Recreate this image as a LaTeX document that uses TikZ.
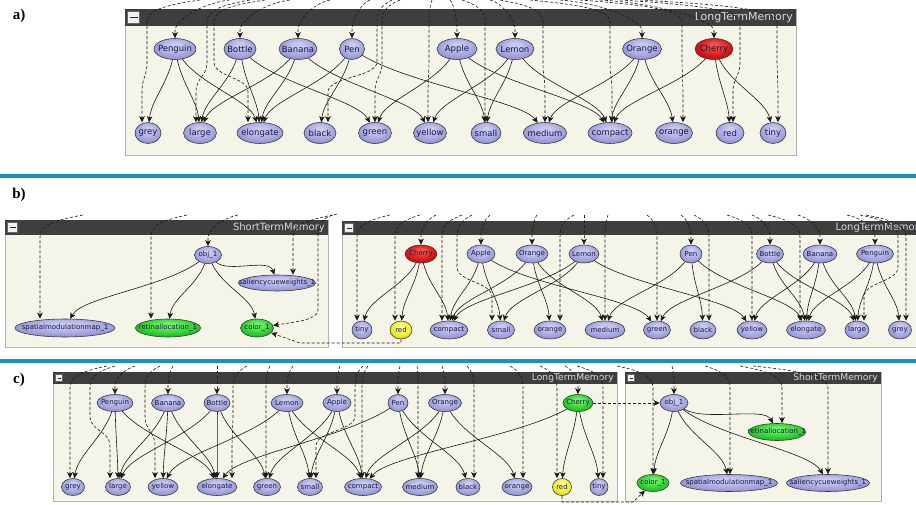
\documentclass[tikz,border=0pt]{standalone}
\usepackage{fontspec}
\setmainfont{DejaVu Sans}
\newfontfamily\labfont{Liberation Serif}
\usetikzlibrary{shapes.geometric,arrows.meta,calc}

\definecolor{lavA}{RGB}{200,200,242}
\definecolor{lavB}{RGB}{162,162,222}
\definecolor{lavC}{RGB}{104,104,172}
\definecolor{redA}{RGB}{240,80,70}
\definecolor{redB}{RGB}{215,20,20}
\definecolor{redC}{RGB}{150,0,0}
\definecolor{grnA}{RGB}{110,240,110}
\definecolor{grnB}{RGB}{40,205,40}
\definecolor{grnC}{RGB}{15,135,15}
\definecolor{yelA}{RGB}{255,255,140}
\definecolor{yelB}{RGB}{235,235,40}
\definecolor{yelC}{RGB}{170,160,0}
\definecolor{panelbg}{RGB}{244,244,233}
\definecolor{barbg}{RGB}{62,62,62}
\definecolor{bartxt}{RGB}{218,218,218}
\definecolor{sepblue}{RGB}{28,142,208}
\definecolor{edgecol}{RGB}{25,25,25}
\definecolor{nodetxt}{RGB}{22,22,60}

\pgfdeclareradialshading{lavsh}{\pgfpoint{0bp}{10bp}}{color(0bp)=(lavA); color(6bp)=(lavA); color(22bp)=(lavB); color(42bp)=(lavC); color(50bp)=(lavC)}
\pgfdeclareradialshading{redsh}{\pgfpoint{0bp}{10bp}}{color(0bp)=(redA); color(6bp)=(redA); color(22bp)=(redB); color(42bp)=(redC); color(50bp)=(redC)}
\pgfdeclareradialshading{grnsh}{\pgfpoint{0bp}{10bp}}{color(0bp)=(grnA); color(6bp)=(grnA); color(22bp)=(grnB); color(42bp)=(grnC); color(50bp)=(grnC)}
\pgfdeclareradialshading{yelsh}{\pgfpoint{0bp}{10bp}}{color(0bp)=(yelA); color(6bp)=(yelA); color(22bp)=(yelB); color(42bp)=(yelC); color(50bp)=(yelC)}

\tikzset{
  nd/.style={ellipse, draw=black!80, line width=0.55pt, inner xsep=-40pt, inner ysep=-40pt,
    text=nodetxt, shade, shading=lavsh},
  ndA/.style={nd, font=\fontsize{8.5}{9}\selectfont, minimum height=21pt},
  ndB/.style={nd, font=\fontsize{7}{8}\selectfont, minimum height=18pt},
  ndC/.style={nd, font=\fontsize{7}{8}\selectfont, minimum height=17pt},
  rednd/.style={shading=redsh},
  grnnd/.style={shading=grnsh},
  yelnd/.style={shading=yelsh},
  sol/.style={draw=edgecol, line width=0.6pt, -{Stealth[length=6pt,width=5.5pt,inset=1.5pt]}},
  dsh/.style={sol, dash pattern=on 3pt off 2pt},
  frameline/.style={draw=black!30, line width=0.6pt},
  sepline/.style={draw=sepblue, line width=3.5pt},
  lab/.style={font=\labfont\bfseries\fontsize{15}{15}\selectfont, inner sep=0pt}
}

% solid edge between two named nodes
\newcommand\E[2]{\draw[sol] (#1) .. controls ($(#1)!0.3!(#2)+(0,10)$) and ($(#2)!0.12!(#1)+(0,-22)$) .. (#2);}
% dashed edge from outside into a top-row node: sx, sy, node
\newcommand\Dt[3]{%
  \coordinate (#3-in) at (#1,#2);
  \coordinate (#3-top) at (#3.north |- #3-in);
  \draw[dsh] (#3-in) .. controls ($(#3-in)!0.6!(#3-top)+(0,4)$) and ($(#3.north)+(0,-16)$) .. ($(#3.north)+(0,-8)$) -- (#3.north);}
% dashed edge from outside into a bottom-row node: sx, sy, x in bar, x at arrow, bend y, node
\newcommand\Db[6]{%
  \coordinate (#6-in) at (#1,#2);
  \coordinate (#6-hit) at (#4,0 |- #6.north);
  \draw[dsh] (#6-in) .. controls ({#3+(#1-#3)*0.35},{#2+5}) and (#3,{#2+10}) .. (#3,{#2+22})
     -- (#3,#5) .. controls (#3,{#5+15}) and (#4,{#5+15}) .. (#4,{#5+30}) -- (#6-hit);}
% panel frame: name, x1, ytop, x2, ybar, ybot, title, size
\newcommand\panel[8]{%
  \fill[panelbg] (#2,#5) rectangle (#4,#6);
  \draw[frameline] (#2,#3) rectangle (#4,#6);
  \fill[barbg] (#2,#3) rectangle (#4,#5);
  \draw[fill=black!6, draw=black!60, line width=0.4pt] ({#2+2.5},{#3+2.5}) rectangle ({#2+#5-#3-2.5},{#5-2.5});
  \draw[black!85, line width=0.9pt] ({#2+4.5},{(#3+#5)/2}) -- ({#2+#5-#3-4.5},{(#3+#5)/2});
  \node[anchor=east, text=bartxt, inner sep=0pt, font=\fontsize{#8}{#8}\selectfont] (#1-title) at ({#4-3},{(#3+#5)/2}) {#7};
}

\begin{document}
\begin{tikzpicture}[x=1pt, y=-1pt]
\path[use as bounding box] (0,0) rectangle (916,505);
\clip (0,0) rectangle (916,505);
\fill[white] (0,0) rectangle (916,505);

% labels and separators
\node[lab] (lab-a) at (19,16) {a)};
\node[lab] (lab-b) at (19,195) {b)};
\node[lab] (lab-c) at (19,380) {c)};
\draw[sepline] (0,176) -- (916,176);
\draw[sepline] (0,361) -- (916,361);

% frames
\panel{fa}{125}{9}{796}{26}{155}{LongTermMemory}{11}
\panel{fbs}{5}{220}{328}{235}{347}{ShortTermMemory}{10}
\panel{fbl}{342}{221}{928}{235}{347}{LongTermMemory}{10}
\panel{fcl}{53}{372}{617}{384}{501}{LongTermMemory}{9.2}
\panel{fcs}{625}{372}{881}{384}{501}{ShortTermMemory}{9.2}

% ---------------- panel a ----------------
\node[ndA, minimum width=42pt] (a-Penguin) at (175,49) {Penguin};
\node[ndA, minimum width=32pt] (a-Bottle) at (240,49) {Bottle};
\node[ndA, minimum width=38pt] (a-Banana) at (298,49) {Banana};
\node[ndA, minimum width=25pt] (a-Pen) at (352,49) {Pen};
\node[ndA, minimum width=40pt] (a-Apple) at (457,49) {Apple};
\node[ndA, minimum width=38pt] (a-Lemon) at (515,49) {Lemon};
\node[ndA, minimum width=39pt] (a-Orange) at (642,49) {Orange};
\node[ndA, rednd, minimum width=38pt] (a-Cherry) at (714,49) {Cherry};
\node[ndA, minimum width=26pt] (a-grey) at (148,133) {grey};
\node[ndA, minimum width=33pt] (a-large) at (200,133) {large};
\node[ndA, minimum width=46pt] (a-elongate) at (260,133) {elongate};
\node[ndA, minimum width=32pt] (a-black) at (320,133) {black};
\node[ndA, minimum width=33pt] (a-green) at (375,133) {green};
\node[ndA, minimum width=33pt] (a-yellow) at (430,133) {yellow};
\node[ndA, minimum width=30pt] (a-small) at (486,133) {small};
\node[ndA, minimum width=43pt] (a-medium) at (545,133) {medium};
\node[ndA, minimum width=44pt] (a-compact) at (610,133) {compact};
\node[ndA, minimum width=37pt] (a-orange) at (674,133) {orange};
\node[ndA, minimum width=28pt] (a-red) at (730,133) {red};
\node[ndA, minimum width=26pt] (a-tiny) at (773,133) {tiny};

% ---------------- panel b ----------------
\node[ndB, minimum width=27pt, minimum height=17pt] (b-obj) at (208,255) {obj\_1};
\node[ndB, minimum width=77pt, minimum height=16pt] (b-saliency) at (277,283) {saliencycueweights\_1};
\node[ndB, minimum width=100pt] (b-spatial) at (65,328) {spatialmodulationmap\_1};
\node[ndB, grnnd, minimum width=65pt] (b-retinal) at (168,328) {retinallocation\_1};
\node[ndB, grnnd, minimum width=33pt] (b-color) at (257,328) {color\_1};

\node[ndB, rednd, minimum width=32pt] (b-Cherry) at (421,254) {Cherry};
\node[ndB, minimum width=28pt] (b-Apple) at (481,254) {Apple};
\node[ndB, minimum width=32pt] (b-Orange) at (532,254) {Orange};
\node[ndB, minimum width=30pt] (b-Lemon) at (584,254) {Lemon};
\node[ndB, minimum width=22pt] (b-Pen) at (691,254) {Pen};
\node[ndB, minimum width=27pt] (b-Bottle) at (770,254) {Bottle};
\node[ndB, minimum width=34pt] (b-Banana) at (820,254) {Banana};
\node[ndB, minimum width=37pt] (b-Penguin) at (875,254) {Penguin};
\node[ndB, minimum width=20pt] (b-tiny) at (362,330) {tiny};
\node[ndB, yelnd, minimum width=22pt] (b-red) at (401,330) {red};
\node[ndB, minimum width=38pt] (b-compact) at (449,330) {compact};
\node[ndB, minimum width=27pt] (b-small) at (501,330) {small};
\node[ndB, minimum width=32pt] (b-orange) at (550,330) {orange};
\node[ndB, minimum width=40pt] (b-medium) at (605,330) {medium};
\node[ndB, minimum width=27pt] (b-green) at (657,330) {green};
\node[ndB, minimum width=26pt] (b-black) at (703,330) {black};
\node[ndB, minimum width=30pt] (b-yellow) at (752,330) {yellow};
\node[ndB, minimum width=39pt] (b-elongate) at (806,330) {elongate};
\node[ndB, minimum width=24pt] (b-large) at (857,330) {large};
\node[ndB, minimum width=23pt] (b-grey) at (900,330) {grey};

% ---------------- panel c ----------------
\node[ndC, minimum width=36pt] (c-Penguin) at (115,403) {Penguin};
\node[ndC, minimum width=33pt] (c-Banana) at (168,403) {Banana};
\node[ndC, minimum width=26pt] (c-Bottle) at (217,403) {Bottle};
\node[ndC, minimum width=32pt] (c-Lemon) at (287,403) {Lemon};
\node[ndC, minimum width=28pt] (c-Apple) at (337,403) {Apple};
\node[ndC, minimum width=20pt] (c-Pen) at (398,403) {Pen};
\node[ndC, minimum width=33pt] (c-Orange) at (445,403) {Orange};
\node[ndC, grnnd, minimum width=30pt] (c-Cherry) at (578,403) {Cherry};
\node[ndC, minimum width=23pt] (c-grey) at (73,487) {grey};
\node[ndC, minimum width=25pt] (c-large) at (118,487) {large};
\node[ndC, minimum width=30pt] (c-yellow) at (163,487) {yellow};
\node[ndC, minimum width=40pt] (c-elongate) at (217,487) {elongate};
\node[ndC, minimum width=27pt] (c-green) at (267,487) {green};
\node[ndC, minimum width=25pt] (c-small) at (310,487) {small};
\node[ndC, minimum width=37pt] (c-compact) at (363,487) {compact};
\node[ndC, minimum width=35pt] (c-medium) at (420,487) {medium};
\node[ndC, minimum width=24pt] (c-black) at (468,487) {black};
\node[ndC, minimum width=30pt] (c-orange) at (517,487) {orange};
\node[ndC, yelnd, minimum width=19pt] (c-red) at (562,487) {red};
\node[ndC, minimum width=18pt] (c-tiny) at (599,487) {tiny};

\node[ndC, minimum width=28pt] (c-obj) at (674,403) {obj\_1};
\node[ndC, grnnd, minimum width=57pt] (c-retinal) at (777,432) {retinallocation\_1};
\node[ndC, grnnd, minimum width=32pt] (c-color) at (653,483) {color\_1};
\node[ndC, minimum width=97pt] (c-spatial) at (729,483) {spatialmodulationmap\_1};
\node[ndC, minimum width=83pt] (c-saliency) at (828,483) {saliencycueweights\_1};

% ---------------- solid edges (same knowledge in every panel) ----------------
\foreach \p in {a,b,c}{
  \E{\p-Penguin}{\p-grey}   \E{\p-Penguin}{\p-large}  \E{\p-Penguin}{\p-elongate}
  \E{\p-Bottle}{\p-green}   \E{\p-Bottle}{\p-large}   \E{\p-Bottle}{\p-elongate}
  \E{\p-Banana}{\p-yellow}  \E{\p-Banana}{\p-large}   \E{\p-Banana}{\p-elongate}
  \E{\p-Pen}{\p-black}      \E{\p-Pen}{\p-medium}     \E{\p-Pen}{\p-elongate}
  \E{\p-Apple}{\p-green}    \E{\p-Apple}{\p-small}    \E{\p-Apple}{\p-compact}
  \E{\p-Lemon}{\p-yellow}   \E{\p-Lemon}{\p-small}    \E{\p-Lemon}{\p-compact}
  \E{\p-Orange}{\p-orange}  \E{\p-Orange}{\p-medium}  \E{\p-Orange}{\p-compact}
  \E{\p-Cherry}{\p-red}     \E{\p-Cherry}{\p-tiny}    \E{\p-Cherry}{\p-compact}
}
\foreach \p in {b,c}{
  \E{\p-obj}{\p-spatial} \E{\p-obj}{\p-retinal} \E{\p-obj}{\p-color} \E{\p-obj}{\p-saliency}
}

% ---------------- dashed edges, panel a ----------------
\Dt{230}{0}{a-Penguin} \Dt{290}{0}{a-Bottle} \Dt{330}{0}{a-Banana} \Dt{370}{0}{a-Pen}
\Dt{450}{0}{a-Apple} \Dt{490}{0}{a-Lemon} \Dt{560}{0}{a-Orange} \Dt{600}{0}{a-Cherry}
\Db{200}{0}{147}{142}{62}{a-grey}
\Db{250}{0}{207}{196}{62}{a-large}
\Db{265}{0}{214}{248}{62}{a-elongate}
\Db{392}{0}{377}{328}{62}{a-black}
\Db{400}{0}{382}{375}{62}{a-green}
\Db{432}{0}{429}{428}{62}{a-yellow}
\Db{462}{0}{485}{485}{62}{a-small}
\Db{500}{0}{543}{545}{62}{a-medium}
\Db{530}{0}{610}{612}{62}{a-compact}
\Db{580}{0}{682}{683}{62}{a-orange}
\Db{620}{0}{740}{733}{62}{a-red}
\Db{640}{0}{777}{778}{62}{a-tiny}

% ---------------- dashed edges, panel b ----------------
\Dt{436}{215}{b-Cherry} \Dt{490}{215}{b-Apple} \Dt{537}{215}{b-Orange} \Dt{584}{215}{b-Lemon}
\Dt{681}{215}{b-Pen} \Dt{752}{215}{b-Bottle} \Dt{798}{215}{b-Banana} \Dt{847}{215}{b-Penguin}
\Dt{238}{215}{b-obj}
\Db{390}{215}{357}{357}{267}{b-tiny}
\Db{420}{215}{395}{395}{267}{b-red}
\Db{462}{215}{442}{442}{267}{b-compact}
\Db{472}{215}{457}{492}{267}{b-small}
\Db{574}{215}{560}{560}{267}{b-orange}
\Db{608}{215}{605}{605}{267}{b-medium}
\Db{647}{215}{657}{657}{267}{b-green}
\Db{694}{215}{709}{709}{267}{b-black}
\Db{727}{215}{752}{752}{267}{b-yellow}
\Db{768}{215}{800}{800}{267}{b-elongate}
\Db{860}{215}{898}{864}{267}{b-large}
\Db{866}{215}{906}{906}{267}{b-grey}
\Db{83}{215}{40}{40}{267}{b-spatial}
\Db{187}{215}{151}{151}{267}{b-retinal}
\Db{333}{215}{293}{293}{240}{b-saliency}
\coordinate (b-color-in) at (337,214);
\draw[dsh] (b-color-in) .. controls (324,217) and (318,222) .. (318,234) -- (318,310)
   .. controls (318,320) and (295,322) .. (b-color);
\coordinate (b-rc) at (300,343);
\draw[dsh] (b-red.south) |- (b-rc) -- (b-color);

% ---------------- dashed edges, panel c ----------------
\Dt{135}{366}{c-Penguin} \Dt{173}{366}{c-Banana} \Dt{217}{366}{c-Bottle} \Dt{293}{366}{c-Lemon}
\Dt{340}{366}{c-Apple} \Dt{400}{366}{c-Pen} \Dt{442}{366}{c-Orange} \Dt{565}{366}{c-Cherry}
\Dt{672}{366}{c-obj}
\Db{107}{366}{70}{70}{416}{c-grey}
\Db{115}{366}{90}{110}{416}{c-large}
\Db{160}{366}{145}{155}{416}{c-yellow}
\Db{247}{366}{233}{232}{416}{c-elongate}
\Db{270}{366}{266}{266}{416}{c-green}
\Db{363}{366}{355}{316}{416}{c-small}
\Db{368}{366}{362}{362}{416}{c-compact}
\Db{417}{366}{418}{418}{416}{c-medium}
\Db{467}{366}{474}{474}{416}{c-black}
\Db{510}{366}{523}{523}{416}{c-orange}
\Db{540}{366}{557}{557}{416}{c-red}
\Db{577}{366}{603}{603}{416}{c-tiny}
\Db{617}{366}{653}{653}{416}{c-color}
\Db{705}{366}{730}{730}{416}{c-spatial}
\Db{740}{366}{782}{782}{388}{c-retinal}
\Db{753}{366}{828}{828}{416}{c-saliency}
\draw[dsh] (c-Cherry) -- (c-obj);
\coordinate (c-rc) at (633,502);
\draw[dsh] (c-red.south) |- (c-rc) -- (c-color);
\end{tikzpicture}
\end{document}
